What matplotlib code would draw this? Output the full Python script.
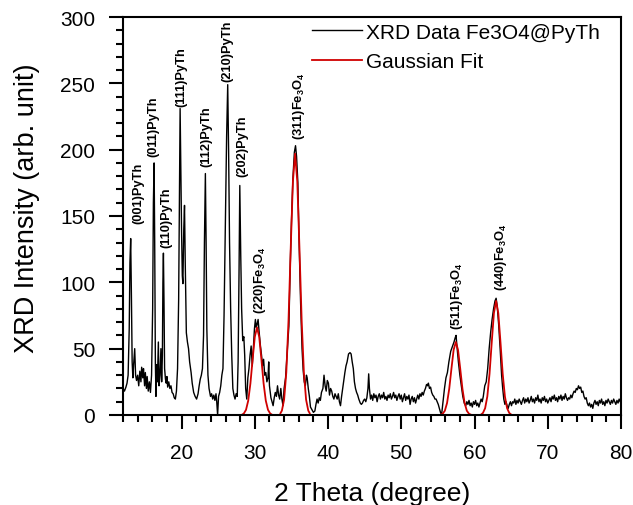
import matplotlib
matplotlib.use('Agg')
import matplotlib.pyplot as plt

plt.rcParams['font.family'] = ['Liberation Sans', 'DejaVu Sans']
plt.rcParams['mathtext.default'] = 'regular'

# XRD pattern Fe3O4@PyTh
two_theta = [
    12.0, 12.2, 12.4, 12.55, 12.7, 12.85, 12.95, 13.05, 13.15, 13.25, 13.35, 13.45, 13.6, 13.72, 13.85,
    14.0, 14.15, 14.3, 14.45, 14.55, 14.7, 14.8, 14.95, 15.05, 15.2, 15.3, 15.45, 15.6, 15.75,
    15.9, 16.05, 16.15, 16.25, 16.33, 16.42, 16.5, 16.6, 16.7, 16.83, 16.92, 17.05, 17.18, 17.28,
    17.38, 17.45, 17.52, 17.6, 17.68, 17.8, 17.9, 18.0, 18.1, 18.25, 18.4, 18.55, 18.7, 18.85, 19.0, 19.15, 19.3,
    19.45, 19.6, 19.72, 19.8, 19.9, 20.0, 20.1, 20.18, 20.3, 20.4, 20.5, 20.65, 20.8, 20.95, 21.1, 21.3,
    21.45, 21.65, 21.85, 22.05, 22.25, 22.4, 22.55, 22.7,
    22.85, 23.0, 23.12, 23.25, 23.35, 23.45, 23.6, 23.75, 23.95, 24.1, 24.25, 24.4, 24.55, 24.7, 24.8,
    24.92, 25.05, 25.2, 25.35, 25.5, 25.65,
    25.8, 26.0, 26.15, 26.3, 26.42, 26.55, 26.7, 26.85, 27.0, 27.15, 27.3, 27.45, 27.6, 27.72,
    27.85, 27.95, 28.08, 28.2, 28.35, 28.5, 28.62, 28.75, 28.9, 29.05, 29.2, 29.35, 29.5, 29.65,
    29.8, 29.95, 30.08, 30.2, 30.3, 30.45, 30.6, 30.77, 30.92, 31.05, 31.2, 31.35, 31.5, 31.65, 31.8, 31.9,
    32.0, 32.2, 32.35, 32.5, 32.65, 32.8, 32.95, 33.1, 33.25, 33.4, 33.55, 33.7, 33.85, 34.0, 34.2,
    34.4, 34.65, 34.85, 35.0, 35.2, 35.4, 35.56, 35.7, 35.88, 36.05, 36.25, 36.45, 36.6, 36.75, 36.9,
    37.05, 37.15, 37.3, 37.45, 37.6, 37.8, 38.0, 38.2, 38.35, 38.5, 38.65, 38.8, 38.95, 39.1, 39.3,
    39.45, 39.6, 39.75, 39.9, 40.05, 40.2, 40.35, 40.5, 40.65, 40.8, 40.95, 41.1, 41.25, 41.4, 41.55,
    41.7, 41.85, 42.0, 42.15, 42.3, 42.45, 42.6, 42.8, 43.0, 43.15, 43.3, 43.45, 43.6, 43.75, 43.9,
    44.05, 44.2, 44.4, 44.55, 44.7, 44.85, 45.0, 45.15, 45.3, 45.45, 45.55, 45.65, 45.8,
    45.95, 46.1, 46.25, 46.4, 46.55, 46.7, 46.85, 47.0, 47.15, 47.3, 47.45, 47.6, 47.75, 47.9,
    48.05, 48.2, 48.35, 48.5, 48.65, 48.8, 48.95, 49.1, 49.25, 49.4, 49.55, 49.7, 49.85, 50.0,
    50.15, 50.3, 50.45, 50.6, 50.75, 50.9, 51.05, 51.2, 51.35, 51.5, 51.65, 51.8, 51.95, 52.1,
    52.25, 52.4, 52.55, 52.7, 52.85, 53.0, 53.15, 53.3, 53.45, 53.6, 53.7, 53.85, 54.0, 54.15,
    54.3, 54.45, 54.6, 54.75, 54.9, 55.05, 55.2, 55.35, 55.5,
    55.7, 55.9, 56.1, 56.3, 56.5, 56.75, 57.0, 57.2, 57.35, 57.48, 57.6, 57.8, 58.0, 58.2, 58.4,
    58.6, 58.8, 58.95, 59.1, 59.25, 59.4, 59.55, 59.7, 59.85, 60.0, 60.15, 60.3, 60.45, 60.6,
    60.75, 60.9, 61.05,
    61.2, 61.4, 61.6, 61.8, 62.0, 62.2, 62.4, 62.6, 62.8, 62.95, 63.1, 63.3, 63.5, 63.7, 63.85,
    64.0, 64.15, 64.3, 64.45, 64.6, 64.75, 64.9,
    65.05, 65.2, 65.35, 65.5, 65.65, 65.8, 65.95, 66.1, 66.25, 66.4, 66.55, 66.7, 66.85, 67.0,
    67.15, 67.3, 67.45, 67.6, 67.75, 67.9, 68.05, 68.2, 68.35, 68.5, 68.65, 68.8, 68.95, 69.1,
    69.25, 69.4, 69.55, 69.7, 69.85, 70.0, 70.15, 70.3, 70.45, 70.6, 70.75, 70.9, 71.05, 71.2,
    71.35, 71.5, 71.65, 71.8, 71.95, 72.1, 72.25, 72.4, 72.55, 72.7, 72.85, 73.0, 73.15, 73.3,
    73.45, 73.6, 73.75, 73.9, 74.05, 74.2, 74.35, 74.5, 74.65, 74.8, 74.95, 75.1, 75.25, 75.4,
    75.55, 75.7, 75.85, 76.0, 76.15, 76.3, 76.45, 76.6, 76.75, 76.9, 77.05, 77.2, 77.35, 77.5,
    77.65, 77.8, 77.95, 78.1, 78.25, 78.4, 78.55, 78.7, 78.85, 79.0, 79.15, 79.3, 79.45, 79.6,
    79.75, 79.9,
]
intensity = [
    20, 18, 21, 24, 30, 65, 115, 133, 90, 40, 28, 38, 50, 30, 26,
    30, 22, 33, 25, 36, 28, 35, 22, 32, 20, 29, 18, 25, 17,
    30, 80, 160, 190, 130, 40, 14, 38, 25, 55, 22, 30, 50, 25,
    45, 100, 122, 85, 35, 27, 24, 29, 21, 25, 20, 22, 17, 16, 13, 12, 18,
    35, 87, 180, 231, 185, 138, 105, 99, 140, 158, 115, 62, 55, 50, 40, 32,
    24, 17, 14, 12, 16, 22, 27, 30,
    35, 60, 130, 182, 130, 65, 30, 20, 14, 16, 12, 15, 11, 16, 10,
    0, 14, 17, 22, 30, 35,
    75, 150, 210, 249, 200, 130, 80, 45, 20, 15, 12, 16, 14, 40,
    110, 173, 120, 80, 56, 59, 45, 20, 12, 28, 35, 45, 52, 37,
    50, 65, 72, 66, 68, 72, 62, 52, 45, 37, 42, 30, 32, 25, 28, 40,
    22, 13, 10, 7, 13, 17, 14, 22, 15, 12, 20, 12, 7, 20, 28,
    45, 67, 115, 145, 178, 198, 203, 195, 175, 130, 85, 50, 34, 25, 22,
    30, 28, 20, 14, 6, 4, 2, 3, 8, 12, 9, 13, 11, 17, 20,
    30, 22, 18, 26, 24, 15, 20, 18, 14, 12, 16, 14, 12, 16, 10,
    7, 14, 20, 26, 32, 37, 40, 46, 47, 46, 40, 35, 25, 20, 17,
    15, 12, 9, 8, 9, 11, 12, 10, 13, 20, 31, 20, 12,
    15, 11, 16, 13, 15, 10, 14, 16, 12, 15, 13, 17, 12, 14,
    11, 15, 13, 16, 12, 14, 17, 13, 15, 11, 14, 16, 12, 15,
    10, 13, 16, 11, 14, 12, 15, 8, 12, 14, 10, 13, 9, 12,
    15, 12, 16, 14, 17, 15, 18, 20, 23, 22, 24, 20, 21, 17,
    15, 14, 12, 12, 10, 8, 5, 2, 0,
    10, 20, 28, 32, 40, 48, 52, 55, 58, 60, 52, 40, 30, 22, 14,
    9, 7, 10, 8, 11, 7, 9, 6, 10, 8, 11, 7, 9, 6,
    9, 12, 10,
    14, 22, 25, 35, 50, 62, 72, 80, 86, 88, 82, 68, 50, 30, 20,
    12, 8, 10, 7, 5, 8, 10,
    7, 10, 9, 12, 8, 11, 9, 12, 10, 8, 11, 13, 9, 12,
    10, 13, 9, 11, 14, 10, 12, 9, 13, 11, 15, 10, 12, 9,
    13, 11, 14, 10, 12, 9, 11, 13, 10, 14, 12, 15, 11, 13,
    10, 14, 12, 15, 11, 14, 12, 16, 13, 11, 13, 12, 15, 13,
    16, 18, 17, 20, 19, 22, 20, 21, 17, 18, 14, 12, 13, 9,
    7, 9, 6, 8, 5, 9, 11, 8, 10, 7, 11, 9, 12, 8,
    10, 7, 11, 9, 12, 10, 8, 11, 9, 12, 10, 8, 11, 9,
    12, 10,
]

# Gaussian fit curves of the Fe3O4 reflections
fit_220_x = [28.3, 28.5, 28.8, 29.1, 29.4, 29.7, 30.0, 30.3, 30.6, 30.9, 31.2, 31.5, 31.8, 32.1, 32.3]
fit_220_y = [0.4, 1.1, 3.9, 10.8, 23.8, 41.9, 58.9, 66, 58.9, 41.9, 23.8, 10.8, 3.9, 1.1, 0.4]
fit_311_x = [33.5, 33.7, 34.0, 34.3, 34.6, 34.9, 35.2, 35.5, 35.8, 36.1, 36.4, 36.7, 37.0, 37.3, 37.5]
fit_311_y = [1.3, 3.3, 11.6, 32.1, 70.9, 125.1, 175.9, 197, 175.9, 125.1, 70.9, 32.1, 11.6, 3.3, 1.3]
fit_511_x = [55.45, 55.65, 55.95, 56.25, 56.55, 56.85, 57.15, 57.45, 57.75, 58.05, 58.35, 58.65, 58.95, 59.25, 59.45]
fit_511_y = [0.4, 0.9, 3.2, 9.0, 19.8, 34.9, 49.1, 55, 49.1, 34.9, 19.8, 9.0, 3.2, 0.9, 0.4]
fit_440_x = [60.95, 61.15, 61.45, 61.75, 62.05, 62.35, 62.65, 62.95, 63.25, 63.55, 63.85, 64.15, 64.45, 64.75, 64.95]
fit_440_y = [0.6, 1.5, 5.1, 14.0, 31.0, 54.6, 76.8, 86, 76.8, 54.6, 31.0, 14.0, 5.1, 1.5, 0.6]

# peak labels
peak_labels = ['(001)PyTh', '(011)PyTh', '(110)PyTh', '(111)PyTh', '(112)PyTh', '(210)PyTh', '(202)PyTh',
               '(220)Fe$_3$O$_4$', '(311)Fe$_3$O$_4$', '(511)Fe$_3$O$_4$', '(440)Fe$_3$O$_4$']
label_x = [14.1, 16.15, 17.9, 20.0, 23.4, 26.2, 28.25, 30.7, 36.0, 57.6, 63.6]
label_y = [145, 195, 127, 233, 188, 252, 180, 77, 208, 65, 94]

fig = plt.figure(figsize=(6.33, 5.06), dpi=100)
ax = fig.add_axes([0.1943, 0.1779, 0.7867, 0.7865])

ax.plot(two_theta, intensity, color='black', lw=1.0, label='XRD Data Fe3O4@PyTh')
ax.plot(fit_220_x, fit_220_y, color='#d00000', lw=1.3, label='Gaussian Fit')
for fx, fy in [(fit_311_x, fit_311_y), (fit_511_x, fit_511_y), (fit_440_x, fit_440_y)]:
    ax.plot(fx, fy, color='#d00000', lw=1.3)

for lab, lx, ly in zip(peak_labels, label_x, label_y):
    ax.text(lx, ly, lab, rotation=90, ha='center', va='bottom', fontsize=9.3, fontweight='bold')

ax.set_xlim(12, 80)
ax.set_ylim(0, 300)
ax.set_xticks([20, 30, 40, 50, 60, 70, 80])
ax.set_xticks(range(12, 81, 2), minor=True)
ax.set_yticks(range(0, 301, 50))
ax.set_yticks(range(0, 301, 10), minor=True)
ax.tick_params(which='major', direction='out', length=10, width=1.5, labelsize=15)
ax.tick_params(which='minor', direction='out', length=5, width=1.5)
ax.tick_params(axis='y', pad=10)
ax.tick_params(axis='x', pad=10.5)
for s in ax.spines.values():
    s.set_linewidth(1.5)

ax.set_xlabel('2 Theta (degree)', fontsize=19, labelpad=13)
ax.set_ylabel('XRD Intensity (arb. unit)', fontsize=19.5)
ax.yaxis.set_label_coords(-0.166, 0.523)

ax.legend(loc='upper left', bbox_to_anchor=(0.359, 1.012), frameon=False, fontsize=15,
          handlelength=2.4, handletextpad=0.2, borderpad=0.0, labelspacing=0.5)

fig.savefig('out.png', dpi=100)
